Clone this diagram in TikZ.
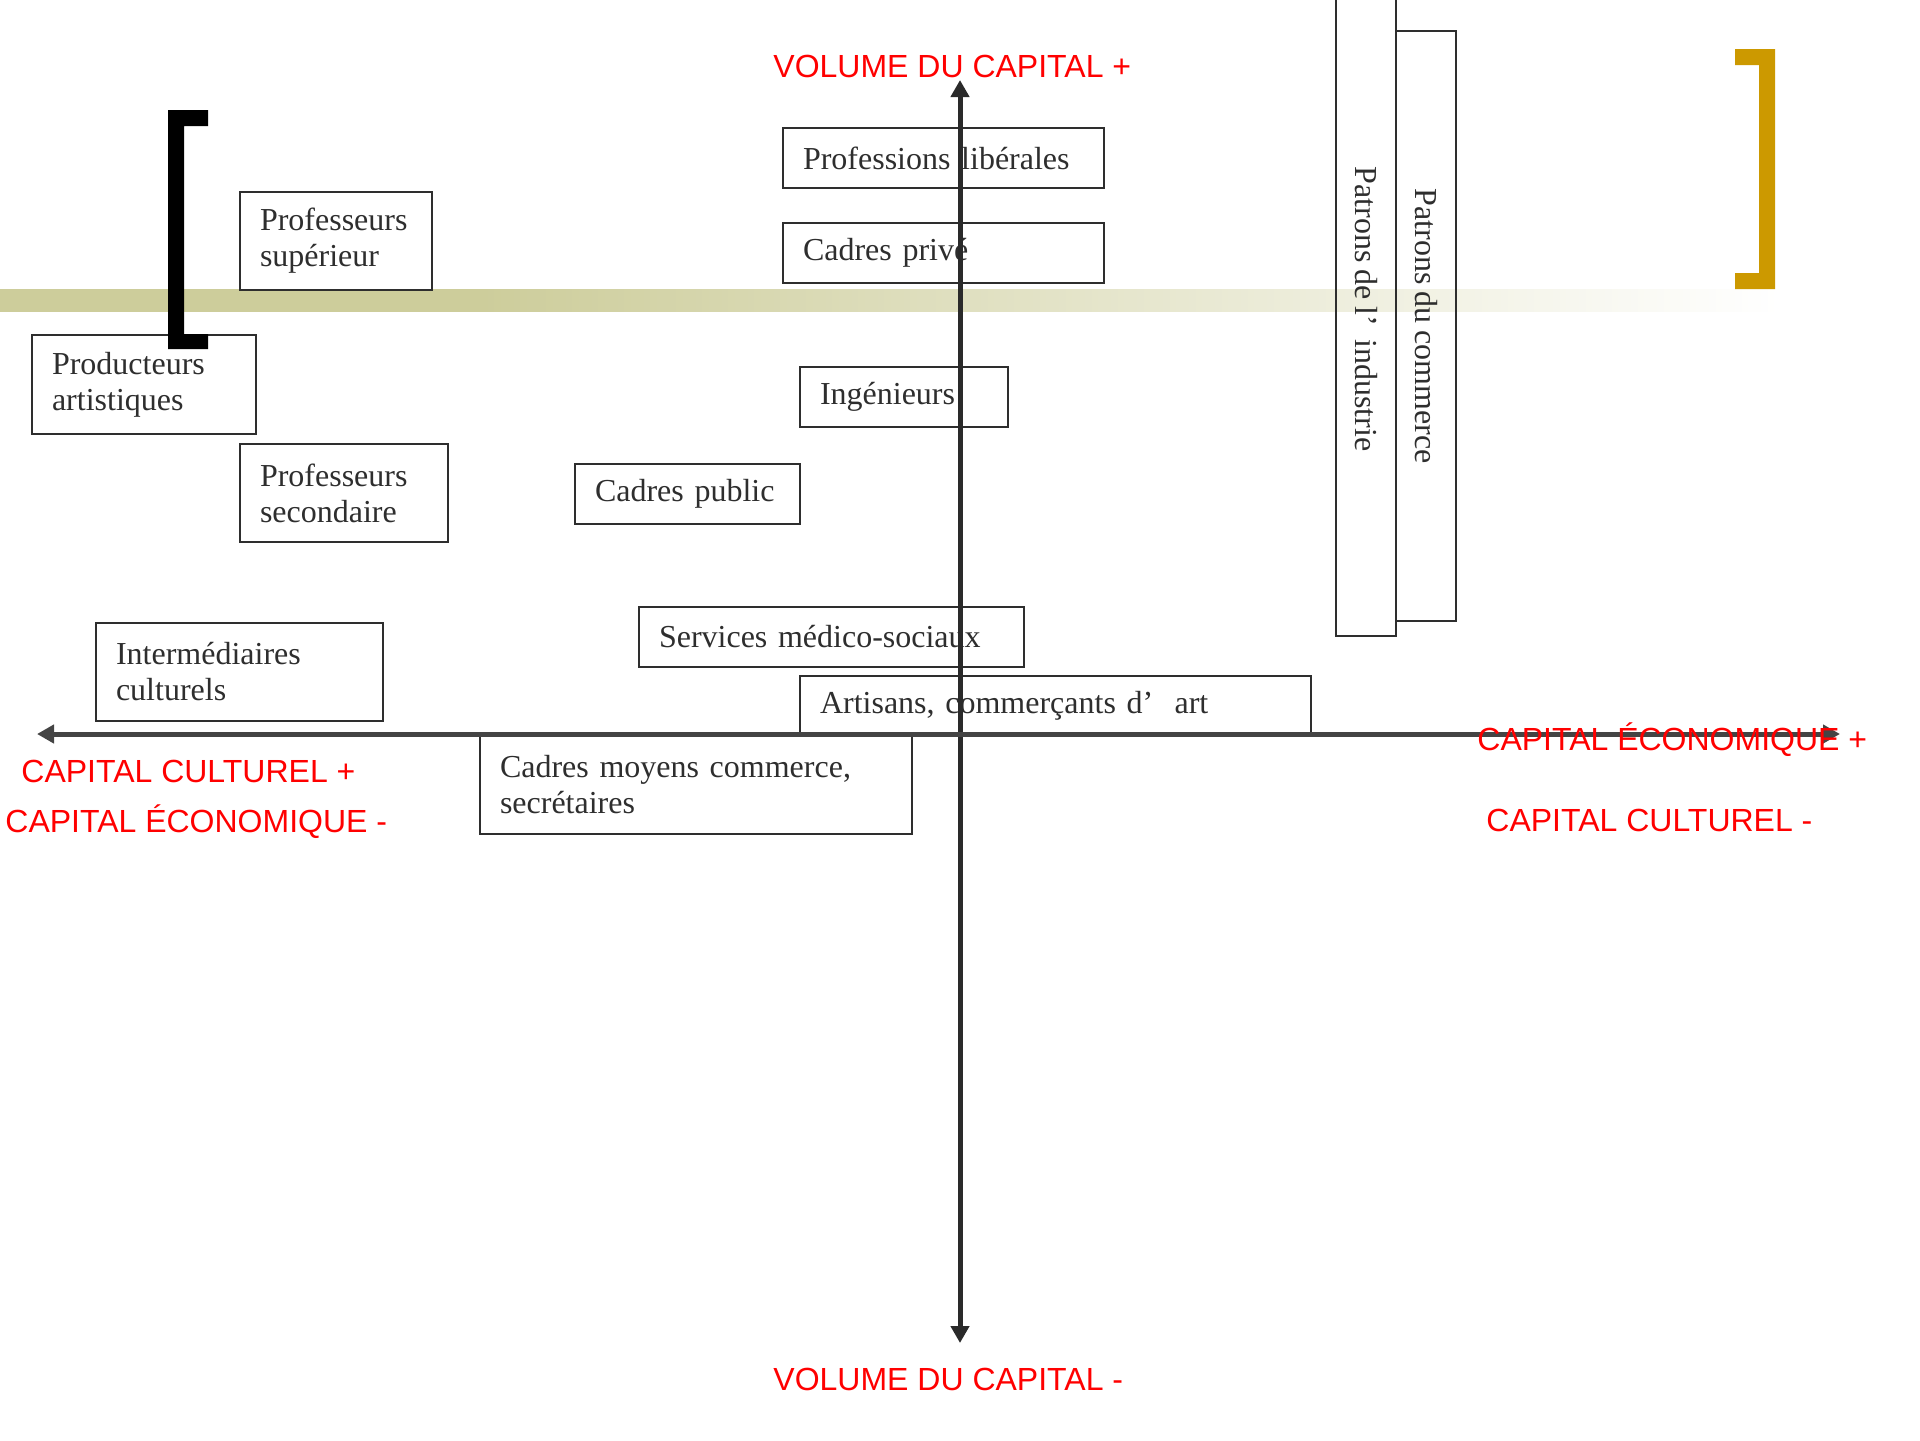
\documentclass[tikz,border=0pt]{standalone}
\usepackage{fontspec}
\setmainfont[WordSpace=0.85]{Liberation Serif}
\newfontfamily\redfont{Liberation Sans}
\usetikzlibrary{arrows.meta}
\definecolor{band}{HTML}{CDCD9B}
\definecolor{gold}{HTML}{CC9900}
\definecolor{boxline}{HTML}{2E2E2E}
\definecolor{axisv}{HTML}{2A2A2A}
\definecolor{axish}{HTML}{444444}
\definecolor{redlbl}{HTML}{FF0000}
\pgfdeclarehorizontalshading{bandshade}{100bp}{color(0bp)=(band); color(38.5bp)=(band); color(75bp)=(white); color(100bp)=(white)}
\newcommand\bx[6]{%
  \pgfmathsetmacro\bxw{((#4)-(#2))*0.5}%
  \pgfmathsetmacro\bxh{((#5)-(#3))*0.5}%
  \pgfmathsetmacro\bxt{\bxw-20}%
  \node[bx, minimum width=\bxw pt, minimum height=\bxh pt, text width=\bxt pt] (#1) at ({((#2)+(#4))/2},{((#3)+(#5))/2}) {#6};}
\begin{document}
\begin{tikzpicture}[x=0.5pt,y=-0.5pt,
  bx/.style={draw=boxline, line width=1pt, text=boxline, font=\fontsize{16}{18}\selectfont, align=left, inner xsep=10pt, inner ysep=0pt, anchor=center},
  vbx/.style={draw=boxline, line width=1pt, text=boxline, font=\fontsize{16}{18}\selectfont, align=center, inner sep=0pt, rotate=-90, minimum height=30pt},
  lbl/.style={text=redlbl, font=\redfont\fontsize{16}{18}\selectfont, inner sep=0pt, anchor=base west},
  axisline/.style={line width=2.5pt, {Triangle[length=8.5pt,width=9pt]}-{Triangle[length=8.5pt,width=9pt]}}]
\useasboundingbox (0,0) rectangle (1920,1440);
\clip (0,0) rectangle (1920,1440);
% band
\shade[shading=bandshade] (0,289) rectangle (1780,311);
% boxes
\bx{profsup}{240}{192}{432}{290}{Professeurs\\supérieur}
\bx{prod}{32}{335}{256}{434}{Producteurs\\artistiques}
\bx{profsec}{240}{444}{448}{542}{Professeurs\\secondaire}
\bx{lib}{783}{128}{1104}{188}{Professions libérales}
\bx{priv}{783}{223}{1104}{283}{Cadres privé}
\bx{ing}{800}{367}{1008}{427}{Ingénieurs}
\bx{pub}{575}{464}{800}{524}{Cadres public}
\bx{med}{639}{607}{1024}{667}{Services médico-sociaux}
\bx{art}{800}{676}{1311}{735}{Artisans, commerçants d’~~art}
\bx{inter}{96}{623}{383}{721}{Intermédiaires\\culturels}
\bx{moy}{480}{736}{912}{834}{Cadres moyens commerce,\\secrétaires}
\node[vbx, minimum width=327pt] (indus) at (1366,309) {Patrons de l’~~industrie};
\node[vbx, minimum width=295pt] (comm) at (1426,326) {Patrons du commerce};
% axes
\coordinate (vtop) at (960,80);
\coordinate (vbot) at (960,1343);
\coordinate (hl) at (37,734);
\coordinate (hr) at (1840,734);
\draw[axisline, draw=axisv, fill=axisv] (vbot) -- (vtop);
\draw[axisline, draw=axish, fill=axish] (hl) -- (hr);
% brackets
\fill[black] (168,110) -- (208,110) -- (208,126) -- (184,126) -- (184,334) -- (208,334) -- (208,349) -- (168,349) -- cycle;
\fill[gold] (1735,49) -- (1775,49) -- (1775,289) -- (1735,289) -- (1735,273) -- (1759,273) -- (1759,65) -- (1735,65) -- cycle;
% labels
\node[lbl] (vplus) at (773,77) {VOLUME DU CAPITAL +};
\node[lbl] (vminus) at (773,1390) {VOLUME DU CAPITAL -};
\node[lbl] (ecoplus) at (1477,750) {CAPITAL ÉCONOMIQUE +};
\node[lbl] (cultminus) at (1486,831) {CAPITAL CULTUREL -};
\node[lbl] (cultplus) at (21,782) {CAPITAL CULTUREL +};
\node[lbl] (ecominus) at (5,832) {CAPITAL ÉCONOMIQUE -};
\end{tikzpicture}
\end{document}
